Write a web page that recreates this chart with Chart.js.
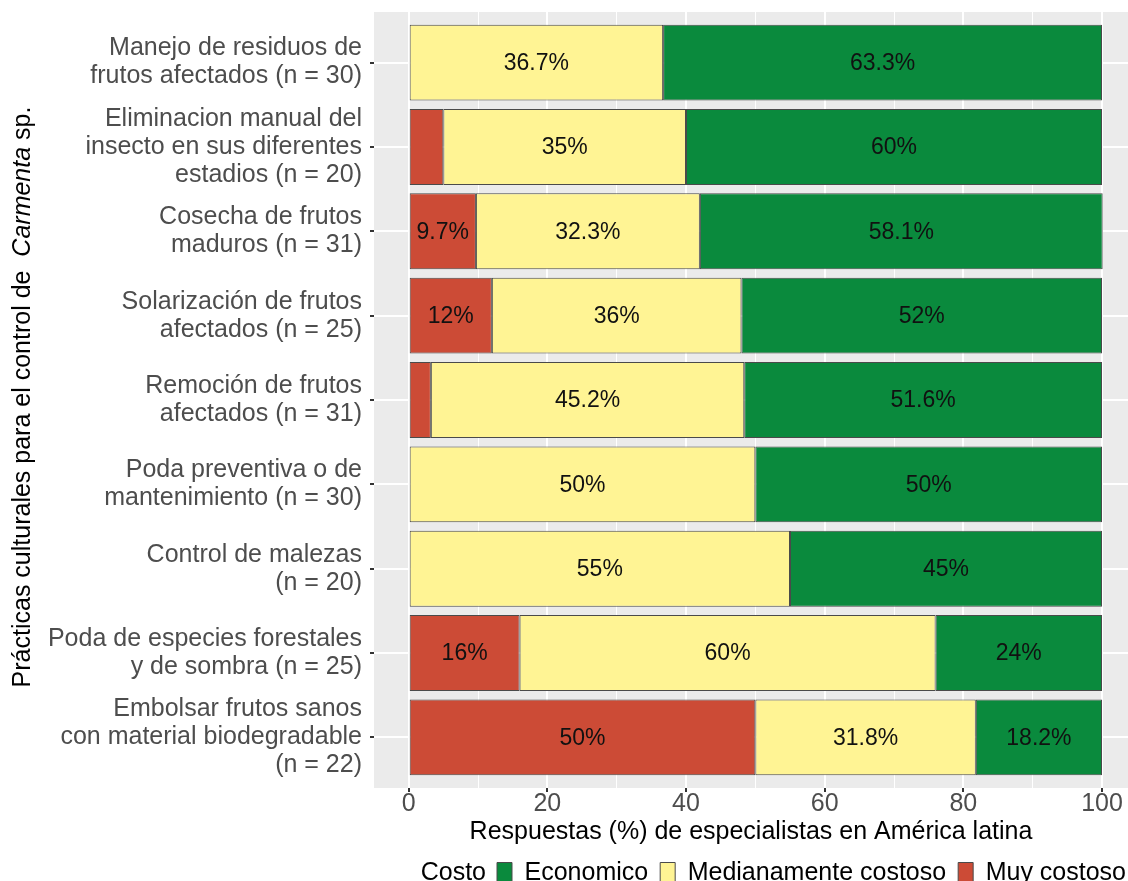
<!DOCTYPE html>
<html>
<head>
<meta charset="utf-8">
<script src="https://cdn.jsdelivr.net/npm/chart.js@4/dist/chart.umd.min.js"></script>
<style>
  html, body { margin: 0; padding: 0; background: #ffffff; overflow: hidden; }
  #wrap { width: 1128px; height: 881px; position: relative; }
</style>
</head>
<body>
<div id="wrap"><canvas id="c"></canvas></div>
<script>
// ---- data (top to bottom) ----
const categories = [
  ["Manejo de residuos de", "frutos afectados (n = 30)"],
  ["Eliminacion manual del", "insecto en sus diferentes", "estadios (n = 20)"],
  ["Cosecha de frutos", "maduros (n = 31)"],
  ["Solarización de frutos", "afectados (n = 25)"],
  ["Remoción de frutos", "afectados (n = 31)"],
  ["Poda preventiva o de", "mantenimiento (n = 30)"],
  ["Control de malezas", "(n = 20)"],
  ["Poda de especies forestales", "y de sombra (n = 25)"],
  ["Embolsar frutos sanos", "con material biodegradable", "(n = 22)"]
];
const muyCostoso    = [0, 5, 9.7, 12, 3.2, 0, 0, 16, 50];
const medianamente  = [36.7, 35, 32.3, 36, 45.2, 50, 55, 60, 31.8];
const economico     = [63.3, 60, 58.1, 52, 51.6, 50, 45, 24, 18.2];
const seriesNames   = ["Muy costoso", "Medianamente costoso", "Economico"];
const xTicks        = [0, 10, 20, 30, 40, 50, 60, 70, 80, 90, 100];
const xTitle        = "Respuestas (%) de especialistas en América latina";
const yTitleParts   = [["Prácticas culturales para el control de  ", false], ["Carmenta", true], [" sp.", false]];
const legendTitle   = "Costo";

const COLORS = { muy: "#CC4B36", med: "#FFF494", eco: "#0A8A3D" };
const FONT = "'Liberation Sans', Arial, sans-serif";
const FS = 25;

const toPts = arr => arr.map((v, i) => ({ x: v, y: i }));

const valueLabels = {
  id: "valueLabels",
  afterDatasetsDraw(chart) {
    const ctx = chart.ctx;
    ctx.save();
    ctx.font = "23px " + FONT;
    ctx.fillStyle = "#111111";
    ctx.textAlign = "center";
    ctx.textBaseline = "middle";
    chart.data.datasets.forEach((ds, di) => {
      const meta = chart.getDatasetMeta(di);
      meta.data.forEach((el, i) => {
        const v = ds.data[i].x;
        if (v > 5) {
          const cx = (el.x + el.base) / 2;
          ctx.fillText(v + "%", cx, el.y + 1);
        }
      });
    });
    ctx.restore();
  }
};

const legendShift = {
  id: "legendShift",
  afterLayout(chart) {
    if (chart.legend) { chart.legend.left += 10; chart.legend.right += 10; }
  }
};

const extraText = {
  id: "extraText",
  afterDraw(chart) {
    const ctx = chart.ctx;
    // y-axis title with italic genus
    ctx.save();
    ctx.fillStyle = "#000000";
    ctx.textBaseline = "middle";
    ctx.textAlign = "left";
    const fontN = FS + "px " + FONT, fontI = "italic " + FS + "px " + FONT;
    let total = 0;
    yTitleParts.forEach(([t, it]) => { ctx.font = it ? fontI : fontN; total += ctx.measureText(t).width; });
    ctx.translate(23, 397);
    ctx.rotate(-Math.PI / 2);
    let x = -total / 2;
    yTitleParts.forEach(([t, it]) => { ctx.font = it ? fontI : fontN; ctx.fillText(t, x, 0); x += ctx.measureText(t).width; });
    ctx.restore();
    // legend title
    const lg = chart.legend;
    if (lg && lg.legendHitBoxes && lg.legendHitBoxes.length) {
      const hb = lg.legendHitBoxes[0];
      ctx.save();
      ctx.font = FS + "px " + FONT;
      ctx.fillStyle = "#000000";
      ctx.textAlign = "right";
      ctx.textBaseline = "middle";
      ctx.fillText(legendTitle, hb.left - 11, hb.top + hb.height / 2);
      ctx.restore();
    }
  }
};

const panelBg = {
  id: "panelBg",
  beforeDraw(chart) {
    const { ctx, chartArea: ca } = chart;
    ctx.save();
    ctx.fillStyle = "#EBEBEB";
    ctx.fillRect(ca.left, ca.top, ca.right - ca.left, ca.bottom - ca.top);
    ctx.restore();
  }
};

const mkDs = (label, arr, color) => ({
  label, data: toPts(arr), backgroundColor: color,
  borderColor: "#4a4a4a", borderWidth: 1, borderSkipped: false,
  categoryPercentage: 1.0, barPercentage: 0.9
});

new Chart(document.getElementById("c"), {
  type: "bar",
  data: {
    datasets: [
      mkDs(seriesNames[0], muyCostoso, COLORS.muy),
      mkDs(seriesNames[1], medianamente, COLORS.med),
      mkDs(seriesNames[2], economico, COLORS.eco)
    ]
  },
  plugins: [panelBg, valueLabels, legendShift, extraText],
  options: {
    indexAxis: "y",
    responsive: true,
    maintainAspectRatio: false,
    animation: false,
    layout: { padding: { top: 12, left: 0, right: 0, bottom: 0 } },
    scales: {
      x: {
        type: "linear", stacked: true, min: -5, max: 103.75, offset: false,
        afterBuildTicks: s => { s.ticks = xTicks.map(v => ({ value: v })); },
        afterFit: s => { s.height = 61; },
        border: { display: false },
        grid: {
          offset: false,
          color: "#FFFFFF",
          lineWidth: c => (c.tick && c.tick.value % 20 === 0) ? 2 : 1,
          tickColor: c => (c.tick && c.tick.value % 20 === 0) ? "#333333" : "rgba(0,0,0,0)",
          tickLength: 4
        },
        ticks: {
          autoSkip: false, maxRotation: 0, padding: 0,
          color: "#4D4D4D", font: { family: FONT, size: FS, lineHeight: 1.0 },
          callback: v => (v % 20 === 0 ? String(v) : "")
        },
        title: {
          display: true, text: xTitle, color: "#000000",
          font: { family: FONT, size: FS, lineHeight: 1.2 }, padding: { top: 0, bottom: 2 }
        }
      },
      y: {
        type: "linear", stacked: true, reverse: true, min: -0.6, max: 8.6, offset: false,
        afterBuildTicks: s => { s.ticks = categories.map((c, i) => ({ value: i })); },
        afterFit: s => { s.width = 374; s.paddingTop = 0; s.paddingBottom = 0; },
        border: { display: false },
        grid: { offset: false, color: "#FFFFFF", lineWidth: 2, tickColor: "#333333", tickLength: 4 },
        ticks: {
          autoSkip: false, padding: 8, color: "#4D4D4D",
          font: { family: FONT, size: FS, lineHeight: 1.12 },
          callback: v => categories[v] || ""
        }
      }
    },
    plugins: {
      tooltip: { enabled: false },
      legend: {
        display: true, position: "bottom", align: "end", reverse: true, maxHeight: 32,
        labels: {
          color: "#000000", font: { family: FONT, size: FS },
          boxWidth: 15, boxHeight: 22, padding: 12
        }
      }
    }
  }
});
</script>
</body>
</html>
